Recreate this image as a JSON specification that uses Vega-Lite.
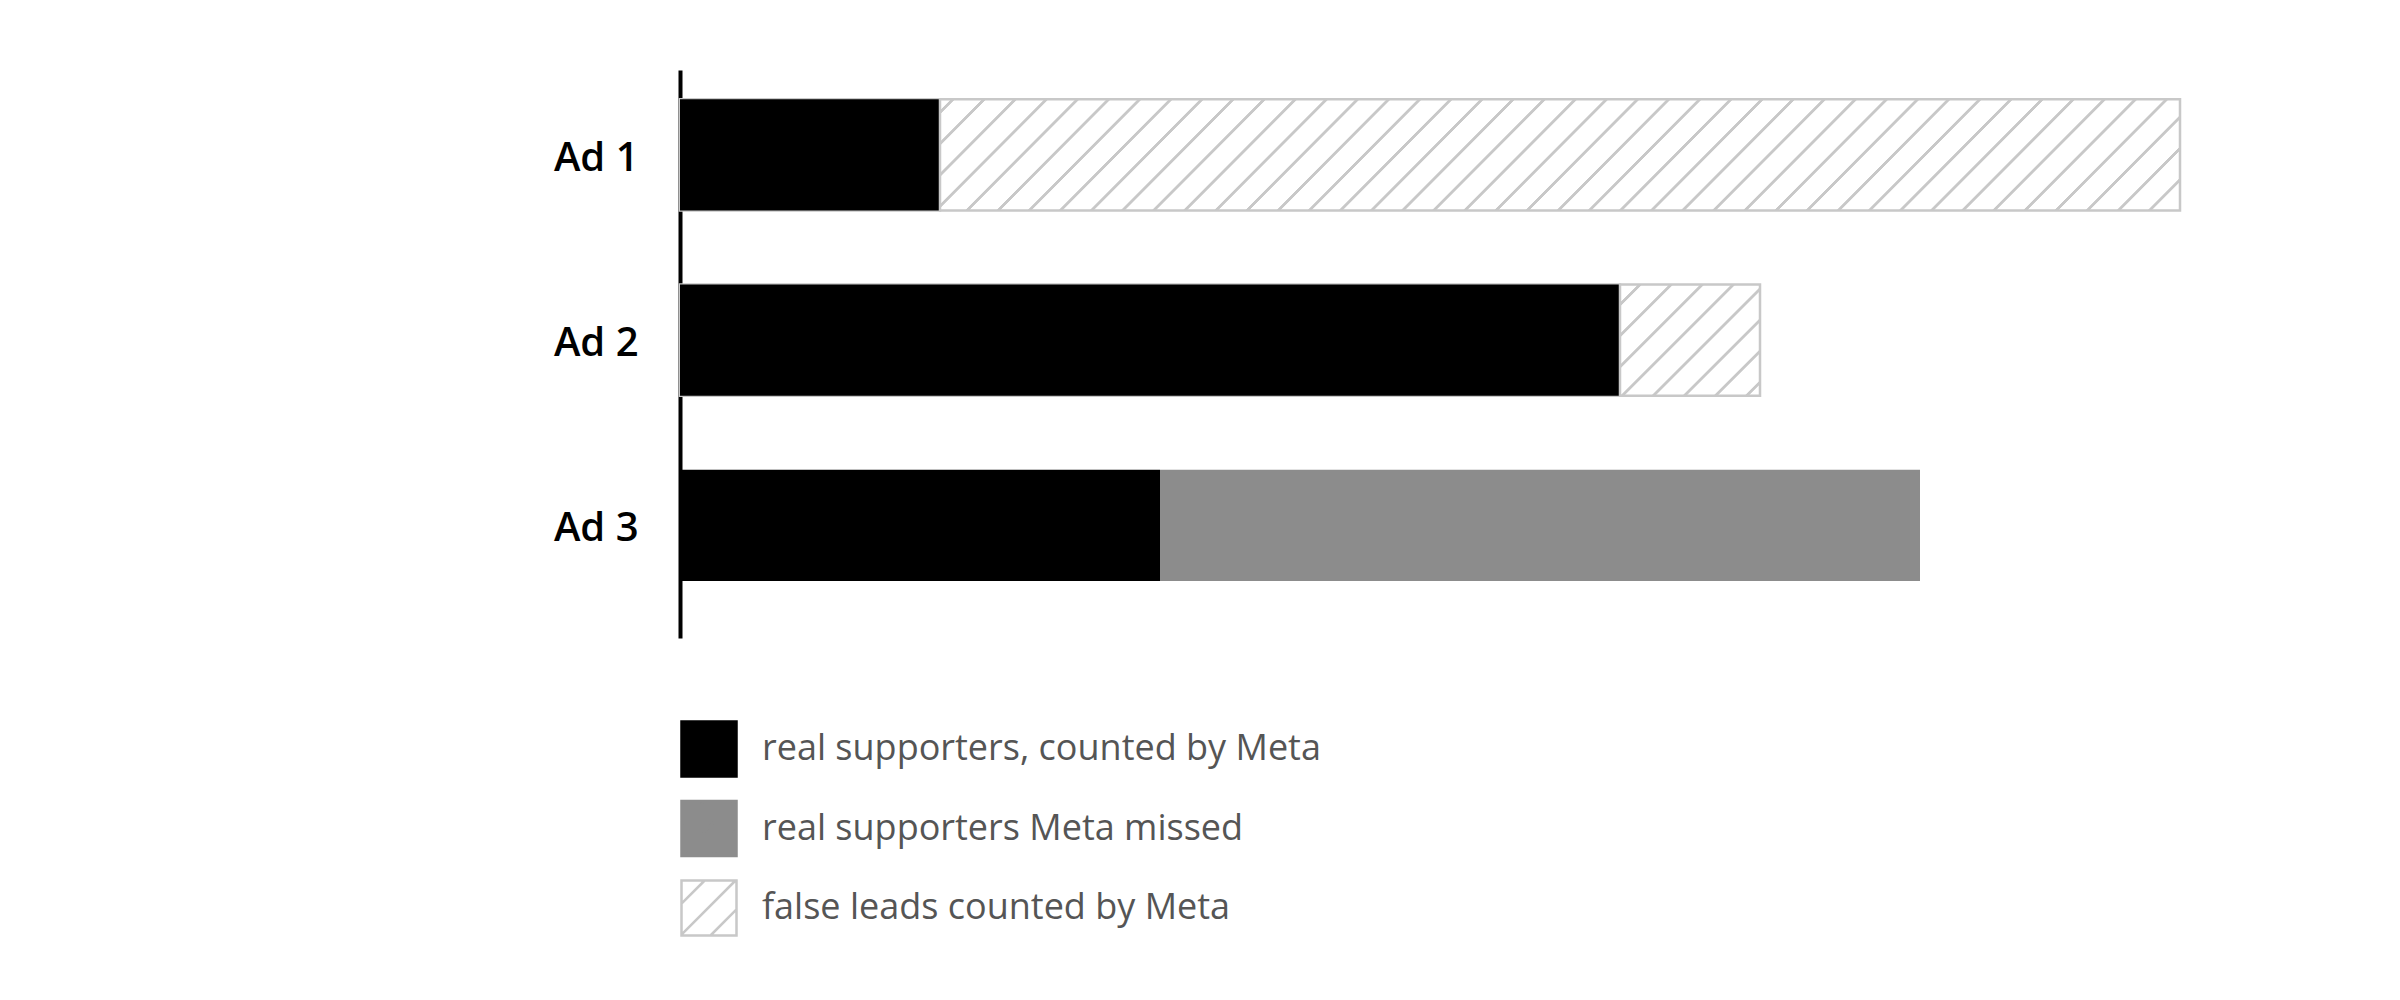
{
  "$schema": "https://vega.github.io/schema/vega-lite/v6.json",
  "autosize": "none",
  "width": 1500,
  "height": 568,
  "padding": {"left": 680, "top": 70, "right": 220, "bottom": 362},
  "background": "#ffffff",
  "data": {
    "values": [
      {"ad": "Ad 1", "category": "real supporters, counted by Meta", "value": 26},
      {"ad": "Ad 1", "category": "false leads counted by Meta", "value": 124},
      {"ad": "Ad 2", "category": "real supporters, counted by Meta", "value": 94},
      {"ad": "Ad 2", "category": "false leads counted by Meta", "value": 14},
      {"ad": "Ad 3", "category": "real supporters, counted by Meta", "value": 48},
      {"ad": "Ad 3", "category": "real supporters Meta missed", "value": 76}
    ]
  },
  "encoding": {
    "y": {
      "field": "ad",
      "type": "nominal",
      "scale": {"paddingInner": 0.4, "paddingOuter": 0.233, "align": 0.34},
      "axis": {
        "title": null,
        "ticks": false,
        "domainColor": "#000000",
        "domainWidth": 4,
        "labelFont": "Open Sans",
        "labelFontSize": 40,
        "labelFontWeight": 600,
        "labelColor": "#000000",
        "labelPadding": 42,
        "labelOffset": 4
      }
    },
    "x": {
      "field": "value",
      "type": "quantitative",
      "stack": "zero",
      "scale": {"domain": [0, 150], "nice": false},
      "axis": null
    },
    "order": {"field": "category", "sort": "descending"}
  },
  "layer": [
    {
      "mark": {"type": "bar", "filled": false, "stroke": "#c8c8c8", "strokeWidth": 2.5},
      "encoding": {
        "opacity": {
          "condition": {"test": "datum.ad !== 'Ad 3' && datum.category === 'real supporters, counted by Meta'", "value": 1},
          "value": 0
        }
      }
    },
    {
      "mark": {"type": "bar", "strokeWidth": 0},
      "encoding": {
        "fill": {
          "field": "category",
          "type": "nominal",
          "scale": {
            "domain": ["real supporters, counted by Meta", "real supporters Meta missed", "false leads counted by Meta"],
            "range": ["#000000", "#8c8c8c", "#ffffff"]
          },
          "legend": {
            "title": null,
            "orient": "none",
            "legendX": 0,
            "legendY": 650,
            "direction": "vertical",
            "padding": 0,
            "symbolType": "M-1,-1H1V1H-1Z M-1,-0.158L-0.158,-1 M-1,0.965L0.965,-1 M0.053,1L1,0.053",
            "symbolSize": 3025,
            "symbolStrokeWidth": 2.5,
            "rowPadding": 13.5,
            "labelOffset": 24,
            "labelLimit": 1000,
            "labelFont": "Open Sans",
            "labelFontSize": 36,
            "labelColor": "#555555"
          }
        },
        "stroke": {
          "field": "category",
          "type": "nominal",
          "scale": {
            "domain": ["real supporters, counted by Meta", "real supporters Meta missed", "false leads counted by Meta"],
            "range": ["#000000", "#8c8c8c", "#c8c8c8"]
          },
          "legend": {
            "title": null,
            "orient": "none",
            "legendX": 0,
            "legendY": 650,
            "direction": "vertical",
            "padding": 0,
            "symbolType": "M-1,-1H1V1H-1Z M-1,-0.158L-0.158,-1 M-1,0.965L0.965,-1 M0.053,1L1,0.053",
            "symbolSize": 3025,
            "symbolStrokeWidth": 2.5,
            "rowPadding": 13.5,
            "labelOffset": 24,
            "labelLimit": 1000,
            "labelFont": "Open Sans",
            "labelFontSize": 36,
            "labelColor": "#555555"
          }
        }
      }
    },
    {
      "mark": {
        "type": "bar",
        "stroke": "#c8c8c8",
        "strokeWidth": 2.5,
        "fill": {
          "gradient": "linear", "x1": 0, "y1": 0, "x2": 1.0805, "y2": 0.0963,
          "stops": [
            {"offset": 0.00777, "color": "#ffffff"}, {"offset": 0.00851, "color": "#c8c8c8"}, {"offset": 0.01073, "color": "#c8c8c8"}, {"offset": 0.01147, "color": "#ffffff"},
            {"offset": 0.03082, "color": "#ffffff"}, {"offset": 0.03156, "color": "#c8c8c8"}, {"offset": 0.03378, "color": "#c8c8c8"}, {"offset": 0.03452, "color": "#ffffff"},
            {"offset": 0.05386, "color": "#ffffff"}, {"offset": 0.05460, "color": "#c8c8c8"}, {"offset": 0.05682, "color": "#c8c8c8"}, {"offset": 0.05756, "color": "#ffffff"},
            {"offset": 0.07690, "color": "#ffffff"}, {"offset": 0.07764, "color": "#c8c8c8"}, {"offset": 0.07986, "color": "#c8c8c8"}, {"offset": 0.08060, "color": "#ffffff"},
            {"offset": 0.09994, "color": "#ffffff"}, {"offset": 0.10068, "color": "#c8c8c8"}, {"offset": 0.10290, "color": "#c8c8c8"}, {"offset": 0.10364, "color": "#ffffff"},
            {"offset": 0.12298, "color": "#ffffff"}, {"offset": 0.12372, "color": "#c8c8c8"}, {"offset": 0.12594, "color": "#c8c8c8"}, {"offset": 0.12668, "color": "#ffffff"},
            {"offset": 0.14603, "color": "#ffffff"}, {"offset": 0.14677, "color": "#c8c8c8"}, {"offset": 0.14899, "color": "#c8c8c8"}, {"offset": 0.14973, "color": "#ffffff"},
            {"offset": 0.16907, "color": "#ffffff"}, {"offset": 0.16981, "color": "#c8c8c8"}, {"offset": 0.17203, "color": "#c8c8c8"}, {"offset": 0.17277, "color": "#ffffff"},
            {"offset": 0.19211, "color": "#ffffff"}, {"offset": 0.19285, "color": "#c8c8c8"}, {"offset": 0.19507, "color": "#c8c8c8"}, {"offset": 0.19581, "color": "#ffffff"},
            {"offset": 0.21515, "color": "#ffffff"}, {"offset": 0.21589, "color": "#c8c8c8"}, {"offset": 0.21811, "color": "#c8c8c8"}, {"offset": 0.21885, "color": "#ffffff"},
            {"offset": 0.23819, "color": "#ffffff"}, {"offset": 0.23893, "color": "#c8c8c8"}, {"offset": 0.24115, "color": "#c8c8c8"}, {"offset": 0.24189, "color": "#ffffff"},
            {"offset": 0.26124, "color": "#ffffff"}, {"offset": 0.26198, "color": "#c8c8c8"}, {"offset": 0.26420, "color": "#c8c8c8"}, {"offset": 0.26494, "color": "#ffffff"},
            {"offset": 0.28428, "color": "#ffffff"}, {"offset": 0.28502, "color": "#c8c8c8"}, {"offset": 0.28724, "color": "#c8c8c8"}, {"offset": 0.28798, "color": "#ffffff"},
            {"offset": 0.30732, "color": "#ffffff"}, {"offset": 0.30806, "color": "#c8c8c8"}, {"offset": 0.31028, "color": "#c8c8c8"}, {"offset": 0.31102, "color": "#ffffff"},
            {"offset": 0.33036, "color": "#ffffff"}, {"offset": 0.33110, "color": "#c8c8c8"}, {"offset": 0.33332, "color": "#c8c8c8"}, {"offset": 0.33406, "color": "#ffffff"},
            {"offset": 0.35340, "color": "#ffffff"}, {"offset": 0.35414, "color": "#c8c8c8"}, {"offset": 0.35636, "color": "#c8c8c8"}, {"offset": 0.35710, "color": "#ffffff"},
            {"offset": 0.37645, "color": "#ffffff"}, {"offset": 0.37719, "color": "#c8c8c8"}, {"offset": 0.37941, "color": "#c8c8c8"}, {"offset": 0.38015, "color": "#ffffff"},
            {"offset": 0.39949, "color": "#ffffff"}, {"offset": 0.40023, "color": "#c8c8c8"}, {"offset": 0.40245, "color": "#c8c8c8"}, {"offset": 0.40319, "color": "#ffffff"},
            {"offset": 0.42253, "color": "#ffffff"}, {"offset": 0.42327, "color": "#c8c8c8"}, {"offset": 0.42549, "color": "#c8c8c8"}, {"offset": 0.42623, "color": "#ffffff"},
            {"offset": 0.44557, "color": "#ffffff"}, {"offset": 0.44631, "color": "#c8c8c8"}, {"offset": 0.44853, "color": "#c8c8c8"}, {"offset": 0.44927, "color": "#ffffff"},
            {"offset": 0.46861, "color": "#ffffff"}, {"offset": 0.46935, "color": "#c8c8c8"}, {"offset": 0.47157, "color": "#c8c8c8"}, {"offset": 0.47231, "color": "#ffffff"},
            {"offset": 0.49166, "color": "#ffffff"}, {"offset": 0.49240, "color": "#c8c8c8"}, {"offset": 0.49462, "color": "#c8c8c8"}, {"offset": 0.49536, "color": "#ffffff"},
            {"offset": 0.51470, "color": "#ffffff"}, {"offset": 0.51544, "color": "#c8c8c8"}, {"offset": 0.51766, "color": "#c8c8c8"}, {"offset": 0.51840, "color": "#ffffff"},
            {"offset": 0.53774, "color": "#ffffff"}, {"offset": 0.53848, "color": "#c8c8c8"}, {"offset": 0.54070, "color": "#c8c8c8"}, {"offset": 0.54144, "color": "#ffffff"},
            {"offset": 0.56078, "color": "#ffffff"}, {"offset": 0.56152, "color": "#c8c8c8"}, {"offset": 0.56374, "color": "#c8c8c8"}, {"offset": 0.56448, "color": "#ffffff"},
            {"offset": 0.58382, "color": "#ffffff"}, {"offset": 0.58456, "color": "#c8c8c8"}, {"offset": 0.58678, "color": "#c8c8c8"}, {"offset": 0.58752, "color": "#ffffff"},
            {"offset": 0.60687, "color": "#ffffff"}, {"offset": 0.60761, "color": "#c8c8c8"}, {"offset": 0.60983, "color": "#c8c8c8"}, {"offset": 0.61057, "color": "#ffffff"},
            {"offset": 0.62991, "color": "#ffffff"}, {"offset": 0.63065, "color": "#c8c8c8"}, {"offset": 0.63287, "color": "#c8c8c8"}, {"offset": 0.63361, "color": "#ffffff"},
            {"offset": 0.65295, "color": "#ffffff"}, {"offset": 0.65369, "color": "#c8c8c8"}, {"offset": 0.65591, "color": "#c8c8c8"}, {"offset": 0.65665, "color": "#ffffff"},
            {"offset": 0.67599, "color": "#ffffff"}, {"offset": 0.67673, "color": "#c8c8c8"}, {"offset": 0.67895, "color": "#c8c8c8"}, {"offset": 0.67969, "color": "#ffffff"},
            {"offset": 0.69903, "color": "#ffffff"}, {"offset": 0.69977, "color": "#c8c8c8"}, {"offset": 0.70199, "color": "#c8c8c8"}, {"offset": 0.70273, "color": "#ffffff"},
            {"offset": 0.72208, "color": "#ffffff"}, {"offset": 0.72282, "color": "#c8c8c8"}, {"offset": 0.72504, "color": "#c8c8c8"}, {"offset": 0.72578, "color": "#ffffff"},
            {"offset": 0.74512, "color": "#ffffff"}, {"offset": 0.74586, "color": "#c8c8c8"}, {"offset": 0.74808, "color": "#c8c8c8"}, {"offset": 0.74882, "color": "#ffffff"},
            {"offset": 0.76816, "color": "#ffffff"}, {"offset": 0.76890, "color": "#c8c8c8"}, {"offset": 0.77112, "color": "#c8c8c8"}, {"offset": 0.77186, "color": "#ffffff"},
            {"offset": 0.79120, "color": "#ffffff"}, {"offset": 0.79194, "color": "#c8c8c8"}, {"offset": 0.79416, "color": "#c8c8c8"}, {"offset": 0.79490, "color": "#ffffff"},
            {"offset": 0.81424, "color": "#ffffff"}, {"offset": 0.81498, "color": "#c8c8c8"}, {"offset": 0.81720, "color": "#c8c8c8"}, {"offset": 0.81794, "color": "#ffffff"},
            {"offset": 0.83729, "color": "#ffffff"}, {"offset": 0.83803, "color": "#c8c8c8"}, {"offset": 0.84025, "color": "#c8c8c8"}, {"offset": 0.84099, "color": "#ffffff"},
            {"offset": 0.86033, "color": "#ffffff"}, {"offset": 0.86107, "color": "#c8c8c8"}, {"offset": 0.86329, "color": "#c8c8c8"}, {"offset": 0.86403, "color": "#ffffff"},
            {"offset": 0.88337, "color": "#ffffff"}, {"offset": 0.88411, "color": "#c8c8c8"}, {"offset": 0.88633, "color": "#c8c8c8"}, {"offset": 0.88707, "color": "#ffffff"},
            {"offset": 0.90641, "color": "#ffffff"}, {"offset": 0.90715, "color": "#c8c8c8"}, {"offset": 0.90937, "color": "#c8c8c8"}, {"offset": 0.91011, "color": "#ffffff"},
            {"offset": 0.92945, "color": "#ffffff"}, {"offset": 0.93019, "color": "#c8c8c8"}, {"offset": 0.93241, "color": "#c8c8c8"}, {"offset": 0.93315, "color": "#ffffff"},
            {"offset": 0.95250, "color": "#ffffff"}, {"offset": 0.95324, "color": "#c8c8c8"}, {"offset": 0.95546, "color": "#c8c8c8"}, {"offset": 0.95620, "color": "#ffffff"},
            {"offset": 0.97554, "color": "#ffffff"}, {"offset": 0.97628, "color": "#c8c8c8"}, {"offset": 0.97850, "color": "#c8c8c8"}, {"offset": 0.97924, "color": "#ffffff"}
          ]
        }
      },
      "encoding": {
        "opacity": {
          "condition": {"test": "datum.ad === 'Ad 1' && datum.category === 'false leads counted by Meta'", "value": 1},
          "value": 0
        }
      }
    },
    {
      "mark": {
        "type": "bar",
        "stroke": "#c8c8c8",
        "strokeWidth": 2.5,
        "fill": {
          "gradient": "linear", "x1": 0, "y1": 0, "x2": 1.1002, "y2": 0.8739,
          "stops": [
            {"offset": 0.0697, "color": "#ffffff"}, {"offset": 0.0736, "color": "#c8c8c8"}, {"offset": 0.0856, "color": "#c8c8c8"}, {"offset": 0.0896, "color": "#ffffff"},
            {"offset": 0.1935, "color": "#ffffff"}, {"offset": 0.1974, "color": "#c8c8c8"}, {"offset": 0.2094, "color": "#c8c8c8"}, {"offset": 0.2134, "color": "#ffffff"},
            {"offset": 0.3173, "color": "#ffffff"}, {"offset": 0.3212, "color": "#c8c8c8"}, {"offset": 0.3332, "color": "#c8c8c8"}, {"offset": 0.3372, "color": "#ffffff"},
            {"offset": 0.4411, "color": "#ffffff"}, {"offset": 0.4450, "color": "#c8c8c8"}, {"offset": 0.4570, "color": "#c8c8c8"}, {"offset": 0.4610, "color": "#ffffff"},
            {"offset": 0.5649, "color": "#ffffff"}, {"offset": 0.5688, "color": "#c8c8c8"}, {"offset": 0.5808, "color": "#c8c8c8"}, {"offset": 0.5848, "color": "#ffffff"},
            {"offset": 0.6888, "color": "#ffffff"}, {"offset": 0.6927, "color": "#c8c8c8"}, {"offset": 0.7047, "color": "#c8c8c8"}, {"offset": 0.7087, "color": "#ffffff"},
            {"offset": 0.8126, "color": "#ffffff"}, {"offset": 0.8165, "color": "#c8c8c8"}, {"offset": 0.8285, "color": "#c8c8c8"}, {"offset": 0.8325, "color": "#ffffff"},
            {"offset": 0.9364, "color": "#ffffff"}, {"offset": 0.9403, "color": "#c8c8c8"}, {"offset": 0.9523, "color": "#c8c8c8"}, {"offset": 0.9563, "color": "#ffffff"}
          ]
        }
      },
      "encoding": {
        "opacity": {
          "condition": {"test": "datum.ad === 'Ad 2' && datum.category === 'false leads counted by Meta'", "value": 1},
          "value": 0
        }
      }
    }
  ],
  "config": {
    "view": {"stroke": null},
    "font": "Open Sans"
  }
}
